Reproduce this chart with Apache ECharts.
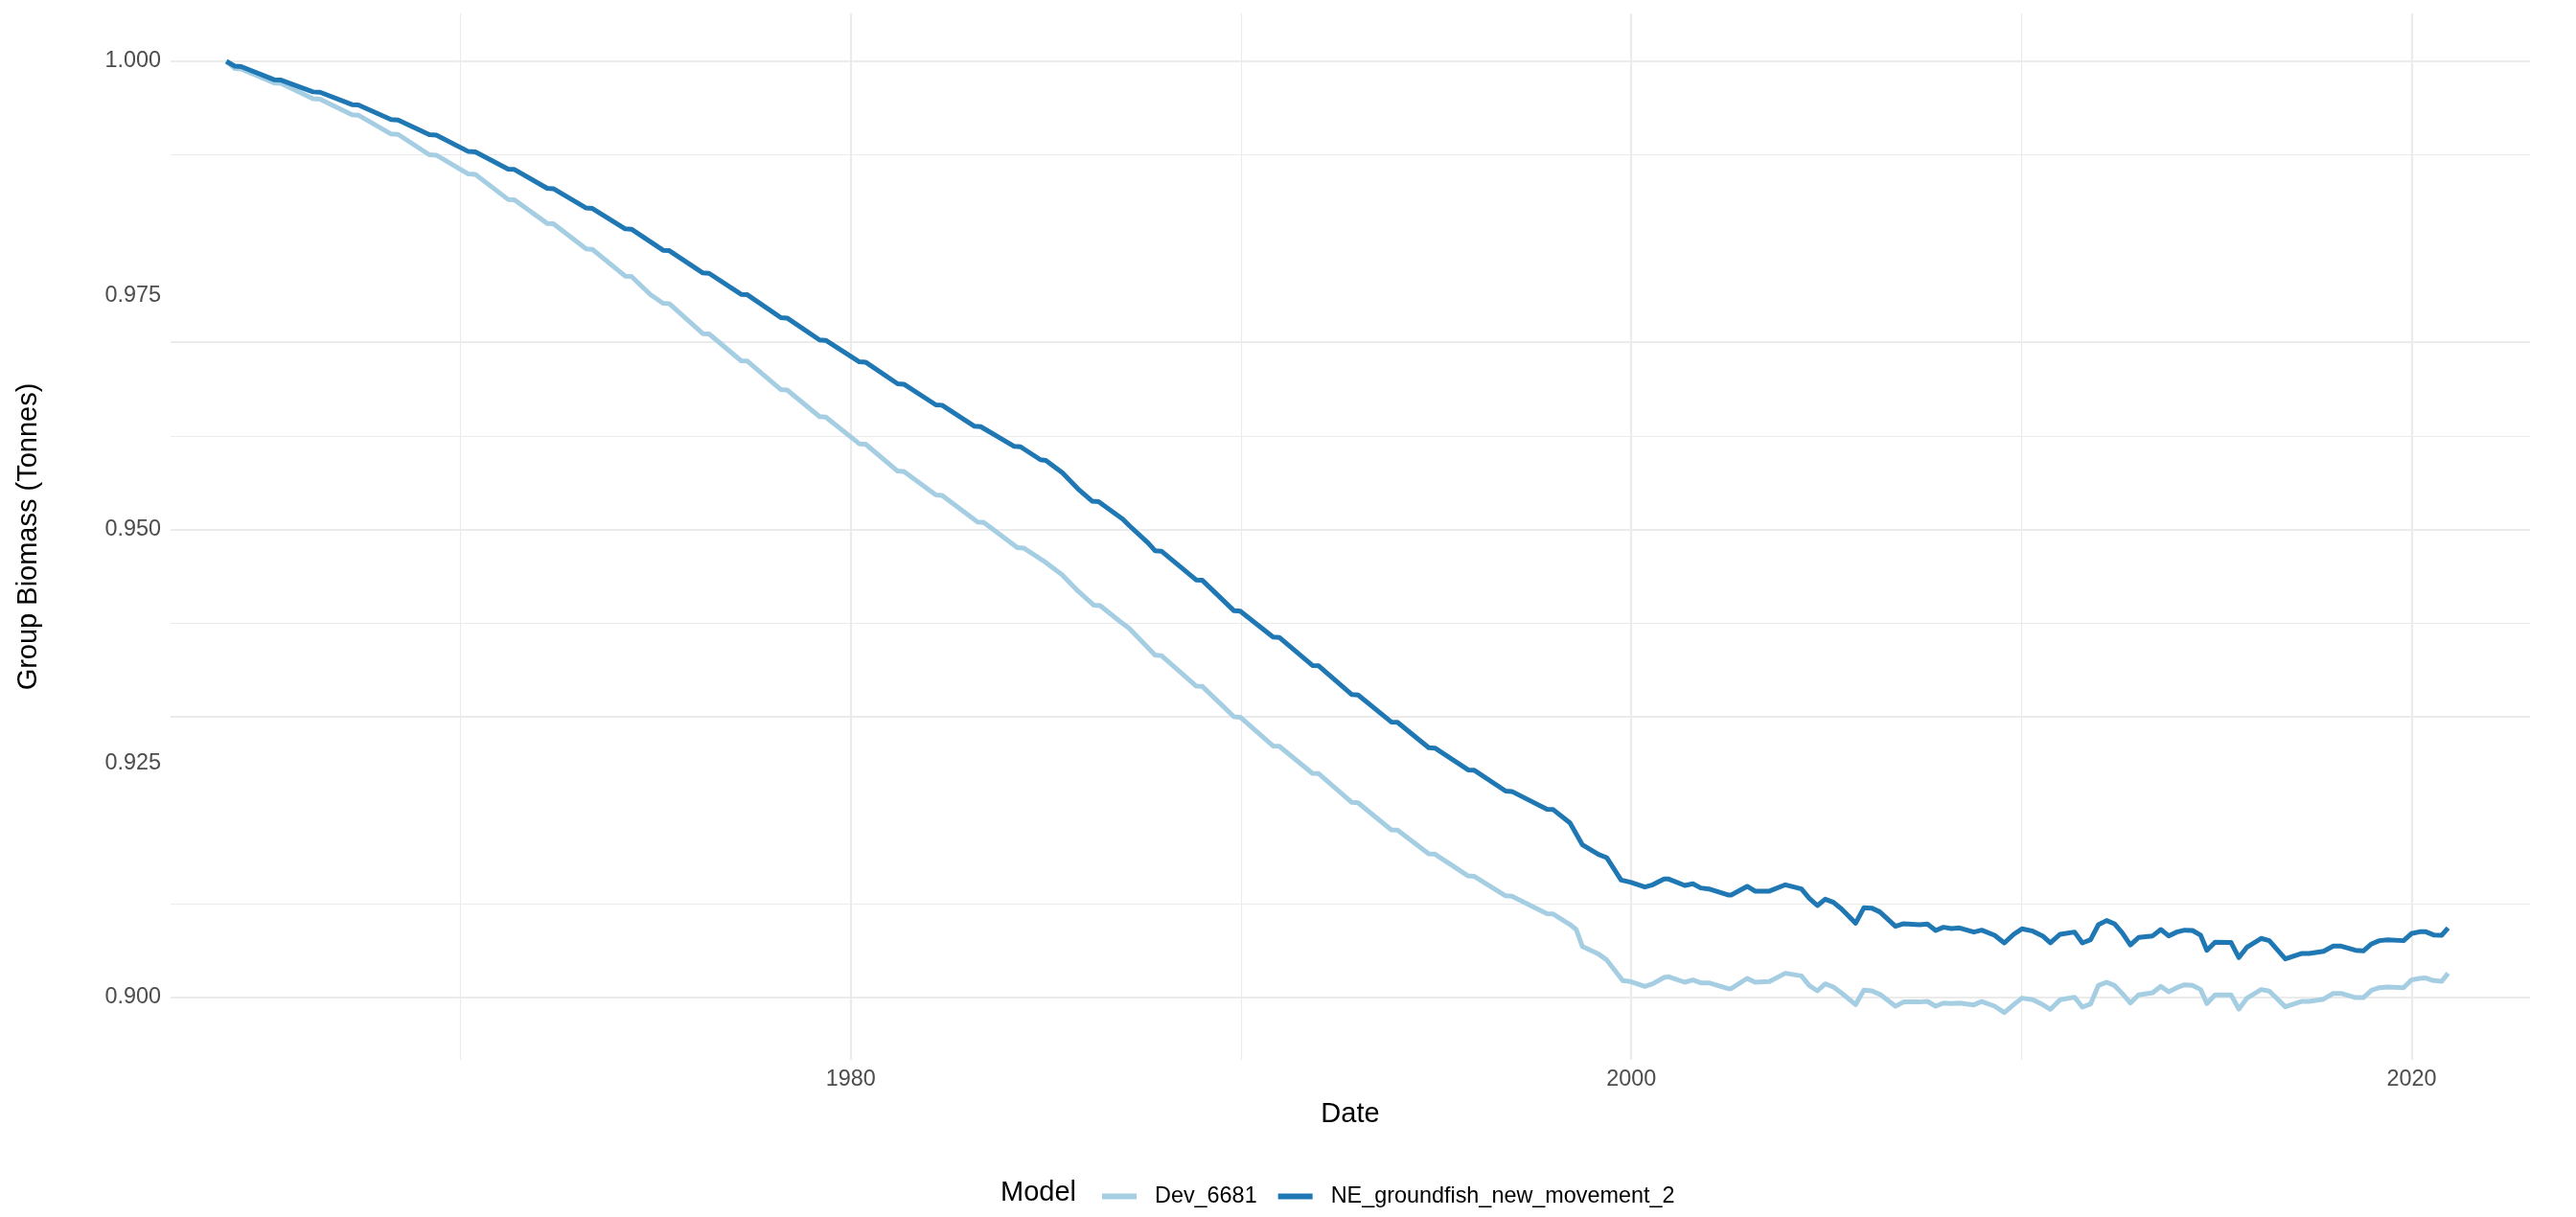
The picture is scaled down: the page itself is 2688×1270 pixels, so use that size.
<!DOCTYPE html>
<html>
<head>
<meta charset="utf-8">
<script src="https://cdn.jsdelivr.net/npm/echarts@6/dist/echarts.min.js"></script>
<style>
html,body{margin:0;padding:0;background:#fff;}
#chart{width:2688px;height:1270px;}
</style>
</head>
<body>
<div id="chart"></div>
<script>
// ---- data ----
const seriesNames = ['Dev_6681', 'NE_groundfish_new_movement_2'];
const xTickLabels = [1980, 2000, 2020];
const xMinorGrid = [1970, 1990, 2010];
const yTickLabels = [0.900, 0.925, 0.950, 0.975, 1.000];
const yMinorGrid = [0.9125, 0.9375, 0.9625, 0.9875];

const darkYears = [1964.00,
 1964.22,1964.38,1965.22,1965.40,1966.22,1966.40,1967.22,1967.38,1968.22,1968.40,
 1969.20,1969.38,1970.20,1970.38,1971.22,1971.38,1972.22,1972.38,1973.22,1973.38,
 1974.22,1974.38,1975.19,1975.35,1976.21,1976.37,1977.19,1977.35,1978.21,1978.37,
 1979.20,1979.36,1980.22,1980.38,1981.20,1981.36,1982.18,1982.34,1983.17,1983.33,
 1984.19,1984.35,1984.86,1985.00,1985.42,1985.82,1986.19,1986.35,1986.97,1987.13,
 1987.62,1987.80,1987.96,1988.85,1989.01,1989.82,1989.98,1990.82,1990.98,1991.83,
 1991.99,1992.84,1993.00,1993.85,1994.01,1994.81,1994.97,1995.82,1995.98,1996.78,
 1996.94,1997.84,1998.00,1998.43,1998.75,1999.16,1999.37,1999.74,1999.98,2000.35,
 2000.55,2000.84,2000.96,2001.37,2001.58,2001.78,2001.99,2002.48,2002.56,2002.97,
 2003.17,2003.54,2003.95,2004.36,2004.56,2004.77,2004.97,2005.18,2005.38,2005.75,
 2005.96,2006.16,2006.37,2006.77,2006.98,2007.39,2007.59,2007.80,2008.00,2008.21,
 2008.41,2008.78,2008.98,2009.31,2009.56,2009.80,2010.01,2010.29,2010.54,2010.74,
 2010.99,2011.36,2011.56,2011.77,2011.97,2012.18,2012.38,2012.58,2012.79,2013.00,
 2013.36,2013.57,2013.77,2013.98,2014.18,2014.38,2014.59,2014.75,2014.96,2015.37,
 2015.57,2015.78,2016.14,2016.35,2016.76,2017.17,2017.37,2017.74,2017.99,2018.19,
 2018.56,2018.76,2018.97,2019.17,2019.38,2019.79,2019.99,2020.20,2020.36,2020.56,
 2020.77,2020.93];
const darkValues = [1.00000,
 0.99948,0.99944,0.99804,0.99800,0.99674,0.99670,0.99538,0.99534,0.99378,0.99374,
 0.99217,0.99213,0.99037,0.99033,0.98849,0.98845,0.98644,0.98640,0.98433,0.98429,
 0.98211,0.98207,0.97982,0.97978,0.97740,0.97736,0.97511,0.97507,0.97262,0.97258,
 0.97024,0.97020,0.96791,0.96787,0.96556,0.96552,0.96331,0.96327,0.96102,0.96098,
 0.95887,0.95883,0.95745,0.95738,0.95606,0.95435,0.95301,0.95297,0.95111,0.95044,
 0.94855,0.94772,0.94768,0.94461,0.94457,0.94132,0.94128,0.93851,0.93847,0.93548,
 0.93544,0.93236,0.93232,0.92944,0.92940,0.92669,0.92665,0.92432,0.92428,0.92206,
 0.92202,0.92012,0.92008,0.91865,0.91631,0.91529,0.91495,0.91256,0.91232,0.91181,
 0.91205,0.91266,0.91266,0.91198,0.91215,0.91171,0.91160,0.91096,0.91096,0.91188,
 0.91137,0.91137,0.91205,0.91160,0.91062,0.90983,0.91051,0.91017,0.90949,0.90795,
 0.90959,0.90956,0.90915,0.90761,0.90789,0.90778,0.90785,0.90717,0.90751,0.90737,
 0.90744,0.90700,0.90720,0.90666,0.90584,0.90676,0.90734,0.90710,0.90659,0.90584,
 0.90676,0.90700,0.90584,0.90618,0.90778,0.90823,0.90789,0.90693,0.90563,0.90642,
 0.90659,0.90727,0.90659,0.90700,0.90720,0.90717,0.90666,0.90505,0.90591,0.90588,
 0.90427,0.90540,0.90632,0.90608,0.90413,0.90471,0.90471,0.90495,0.90550,0.90550,
 0.90505,0.90499,0.90574,0.90608,0.90618,0.90608,0.90683,0.90703,0.90703,0.90669,
 0.90666,0.90744];

const lightYears = [1964.00,
 1964.22,1964.38,1965.22,1965.40,1966.22,1966.40,1967.22,1967.38,1968.22,1968.40,
 1969.20,1969.38,1970.20,1970.38,1971.22,1971.38,1972.22,1972.38,1973.22,1973.38,
 1974.22,1974.38,1974.86,1975.19,1975.35,1976.21,1976.37,1977.19,1977.35,1978.21,
 1978.37,1979.20,1979.36,1980.22,1980.38,1981.20,1981.36,1982.18,1982.34,1983.25,
 1983.41,1984.27,1984.43,1984.93,1985.42,1985.82,1986.23,1986.39,1986.89,1987.13,
 1987.80,1987.96,1988.85,1989.01,1989.82,1989.98,1990.82,1990.98,1991.83,1991.99,
 1992.84,1993.00,1993.85,1994.01,1994.81,1994.97,1995.82,1995.98,1996.78,1996.94,
 1997.84,1998.00,1998.43,1998.59,1998.75,1999.16,1999.37,1999.78,1999.98,2000.35,
 2000.55,2000.84,2000.96,2001.37,2001.58,2001.78,2001.99,2002.48,2002.56,2002.97,
 2003.17,2003.54,2003.95,2004.36,2004.56,2004.77,2004.97,2005.18,2005.38,2005.75,
 2005.96,2006.16,2006.37,2006.77,2006.98,2007.39,2007.59,2007.80,2008.00,2008.21,
 2008.41,2008.78,2008.98,2009.31,2009.56,2009.80,2010.01,2010.29,2010.54,2010.74,
 2010.99,2011.36,2011.56,2011.77,2011.97,2012.18,2012.38,2012.58,2012.79,2013.00,
 2013.36,2013.57,2013.77,2013.98,2014.18,2014.38,2014.59,2014.75,2014.96,2015.37,
 2015.57,2015.78,2016.14,2016.35,2016.76,2017.17,2017.37,2017.74,2017.99,2018.19,
 2018.56,2018.76,2018.97,2019.17,2019.38,2019.79,2019.99,2020.20,2020.36,2020.56,
 2020.77,2020.93];
const lightValues = [1.00000,
 0.99923,0.99919,0.99770,0.99766,0.99600,0.99596,0.99429,0.99425,0.99224,0.99220,
 0.99002,0.98998,0.98797,0.98793,0.98525,0.98521,0.98269,0.98265,0.97996,0.97992,
 0.97706,0.97702,0.97511,0.97416,0.97412,0.97092,0.97088,0.96802,0.96798,0.96494,
 0.96490,0.96205,0.96201,0.95915,0.95911,0.95624,0.95620,0.95368,0.95364,0.95079,
 0.95075,0.94805,0.94801,0.94667,0.94514,0.94343,0.94191,0.94187,0.94020,0.93947,
 0.93657,0.93653,0.93327,0.93323,0.92999,0.92995,0.92688,0.92684,0.92396,0.92392,
 0.92085,0.92081,0.91792,0.91788,0.91536,0.91532,0.91299,0.91295,0.91087,0.91083,
 0.90897,0.90893,0.90780,0.90727,0.90545,0.90465,0.90403,0.90181,0.90171,0.90120,
 0.90147,0.90215,0.90222,0.90164,0.90188,0.90157,0.90157,0.90096,0.90096,0.90205,
 0.90164,0.90171,0.90260,0.90232,0.90130,0.90072,0.90147,0.90113,0.90052,0.89925,
 0.90079,0.90072,0.90035,0.89908,0.89953,0.89953,0.89959,0.89908,0.89942,0.89936,
 0.89942,0.89922,0.89959,0.89908,0.89840,0.89925,0.89994,0.89977,0.89925,0.89874,
 0.89977,0.90004,0.89898,0.89932,0.90130,0.90164,0.90130,0.90045,0.89942,0.90028,
 0.90052,0.90120,0.90062,0.90106,0.90137,0.90130,0.90086,0.89936,0.90028,0.90028,
 0.89878,0.89994,0.90086,0.90069,0.89902,0.89959,0.89959,0.89983,0.90045,0.90045,
 0.90000,0.90000,0.90079,0.90106,0.90113,0.90106,0.90188,0.90205,0.90209,0.90181,
 0.90174,0.90260];

// ---- build chart ----
const FONT = '"Liberation Sans", Arial, Helvetica, sans-serif';
const GRID_COLOR = '#ebebeb';
const pairs = (xs, ys) => xs.map((x, i) => [x, ys[i]]);

const gridLines = [];
xTickLabels.forEach(v => gridLines.push({xAxis: v, lineStyle: {width: 2.2, color: GRID_COLOR, type: 'solid'}}));
xMinorGrid.forEach(v => gridLines.push({xAxis: v, lineStyle: {width: 1.2, color: GRID_COLOR, type: 'solid'}}));
yTickLabels.forEach(v => gridLines.push({yAxis: v, lineStyle: {width: 2.2, color: GRID_COLOR, type: 'solid'}}));
yMinorGrid.forEach(v => gridLines.push({yAxis: v, lineStyle: {width: 1.2, color: GRID_COLOR, type: 'solid'}}));

const chart = echarts.init(document.getElementById('chart'), null, {renderer: 'canvas'});
chart.setOption({
  animation: false,
  backgroundColor: '#ffffff',
  textStyle: {fontFamily: FONT},
  grid: {left: 178, right: 48, top: 14, bottom: 164, containLabel: false},
  xAxis: {
    type: 'value',
    min: 1962.57, max: 2023.03,
    name: 'Date', nameLocation: 'middle', nameGap: 42,
    nameTextStyle: {fontSize: 29, color: '#000000', fontFamily: FONT},
    axisLine: {show: false}, axisTick: {show: false}, splitLine: {show: false},
    axisLabel: {customValues: xTickLabels, fontSize: 23.4, color: '#4d4d4d', margin: 9, fontFamily: FONT,
      formatter: v => String(Math.round(v))}
  },
  yAxis: {
    type: 'value',
    min: 0.89335, max: 1.00512,
    name: 'Group Biomass (Tonnes)', nameLocation: 'middle', nameGap: 134, nameRotate: 90,
    nameTextStyle: {fontSize: 29, color: '#000000', fontFamily: FONT},
    axisLine: {show: false}, axisTick: {show: false}, splitLine: {show: false},
    axisLabel: {customValues: yTickLabels, fontSize: 23.4, color: '#4d4d4d', margin: 10, fontFamily: FONT,
      formatter: v => v.toFixed(3)}
  },
  legend: {
    data: seriesNames,
    left: 1145, top: 1232,
    orient: 'horizontal',
    icon: 'rect', itemWidth: 36, itemHeight: 6, itemGap: 22,
    textStyle: {fontSize: 23.4, color: '#000000', fontFamily: FONT, padding: [0, 0, 0, 14]}
  },
  graphic: [{
    type: 'text', left: 1044, top: 1230,
    style: {text: 'Model', font: '29px ' + FONT, fill: '#000000'}
  }],
  series: [
    {
      name: 'grid', type: 'line', data: [], z: 1, silent: true,
      markLine: {silent: true, z: 1, symbol: ['none', 'none'], label: {show: false}, animation: false, data: gridLines}
    },
    {
      name: seriesNames[0], type: 'line', data: pairs(lightYears, lightValues), z: 3,
      showSymbol: false, smooth: false, color: '#a6cee3',
      lineStyle: {width: 5, color: '#a6cee3', join: 'round'}
    },
    {
      name: seriesNames[1], type: 'line', data: pairs(darkYears, darkValues), z: 4,
      showSymbol: false, smooth: false, color: '#1f78b4',
      lineStyle: {width: 5, color: '#1f78b4', join: 'round'}
    }
  ]
});
</script>
</body>
</html>
